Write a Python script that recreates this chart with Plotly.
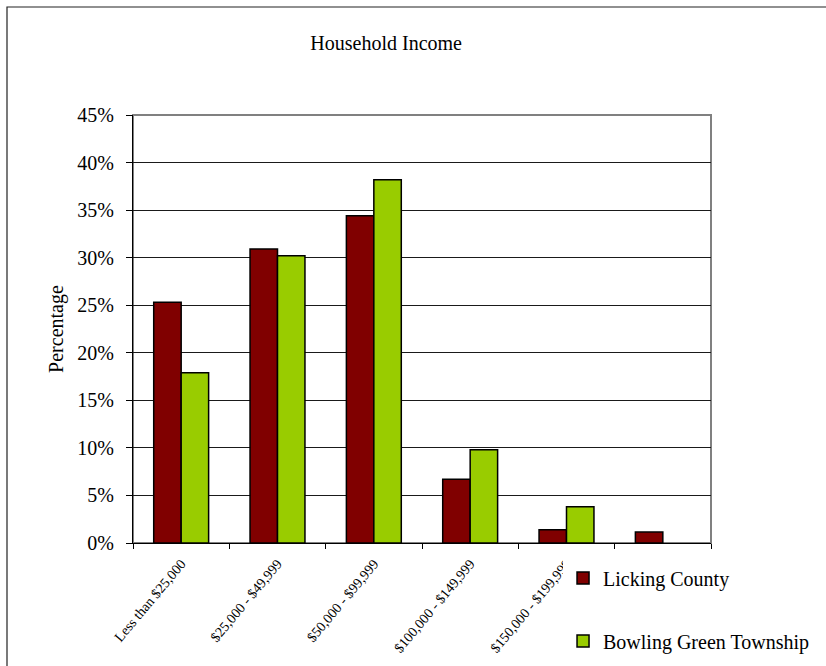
import plotly.graph_objects as go

# Household income distribution, share of households per bracket
categories = [
    "Less than $25,000",
    "$25,000 - $49,999",
    "$50,000 - $99,999",
    "$100,000 - $149,999",
    "$150,000 - $199,999",
    "$200,000 or more",
]
tick_labels = [
    "Less than $25,000",
    "$25,000 - $49,999",
    "$50,000 - $99,999",
    "$100,000 - $149,999",
    "$150,000 - $199,999",
    "",
]
licking_county = [0.253, 0.309, 0.344, 0.067, 0.014, 0.0115]
bowling_green = [0.179, 0.302, 0.382, 0.098, 0.038, None]

serif = "Liberation Serif"

fig = go.Figure()
fig.add_trace(go.Bar(
    x=categories, y=licking_county, name="Licking County",
    marker=dict(color="#800000", line=dict(color="black", width=1.5)),
    legendgroup="a",
))
fig.add_trace(go.Bar(
    x=categories, y=bowling_green, name="Bowling Green Township",
    marker=dict(color="#99CC00", line=dict(color="black", width=1.5)),
    legendgroup="b",
))

fig.update_layout(
    width=826, height=666,
    margin=dict(l=133, r=115, t=115, b=123, autoexpand=False),
    paper_bgcolor="white", plot_bgcolor="white",
    font=dict(family=serif, color="black"),
    barmode="group", bargap=0.43, bargroupgap=0,
    title=dict(text="Household Income", font=dict(size=20, family=serif),
               x=0.438, xref="paper", xanchor="center",
               y=1 - 43 / 666, yref="container", yanchor="middle"),
    legend=dict(x=0.744, y=-0.036, xanchor="left", yanchor="top",
                font=dict(size=20, family=serif), tracegroupgap=34,
                bgcolor="white", itemwidth=30),
    xaxis=dict(
        tickvals=categories, ticktext=tick_labels, tickangle=-50,
        tickfont=dict(size=14, family=serif), automargin=False,
        showline=True, linecolor="black", linewidth=1,
        ticks="outside", ticklen=5, tickcolor="black", tickson="boundaries",
        ticklabelstandoff=6, showgrid=False,
    ),
    yaxis=dict(
        range=[0, 0.45], dtick=0.05, tickformat=".0%",
        tickfont=dict(size=20, family=serif), automargin=False,
        showline=True, linecolor="black", linewidth=1,
        ticks="outside", ticklen=6, tickcolor="black", ticklabelstandoff=8,
        showgrid=True, gridcolor="#1a1a1a", gridwidth=1,
        zeroline=False,
        title=dict(text="Percentage", font=dict(size=20, family=serif), standoff=8),
    ),
    shapes=[
        # plot area frame (top and right edges grey)
        dict(type="rect", xref="paper", yref="paper", x0=0, x1=1, y0=0, y1=1,
             line=dict(color="#808080", width=2), layer="below"),
        # outer chart frame
        dict(type="rect", xref="paper", yref="paper",
             x0=-126 / 578, x1=1.4, y0=-0.6, y1=536 / 428,
             line=dict(color="#222222", width=1.2), layer="below"),
    ],
)

fig.write_html("out.html")
